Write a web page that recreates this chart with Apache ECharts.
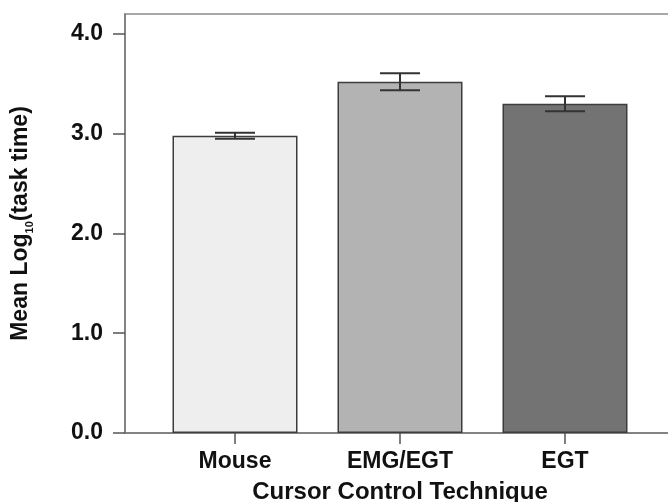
<!DOCTYPE html>
<html>
<head>
<meta charset="utf-8">
<script src="https://cdn.jsdelivr.net/npm/echarts@6/dist/echarts.min.js"></script>
<style>
html,body{margin:0;padding:0;background:#fff;}
#chart{width:668px;height:502px;}
</style>
</head>
<body>
<div id="chart"></div>
<script>
var categories = ['Mouse', 'EMG/EGT', 'EGT'];
var means = [2.98, 3.52, 3.30];
var errors = [0.03, 0.085, 0.075];
var barColors = ['#eeeeee', '#b3b3b3', '#737373'];
var yTickValues = [0, 1, 2, 3, 4];

var positions = categories.map(function (c, i) { return i; });
var barData = means.map(function (m, i) {
  return { value: [positions[i], m], itemStyle: { color: barColors[i] } };
});
var errData = means.map(function (m, i) { return [positions[i], m, errors[i]]; });

var chart = echarts.init(document.getElementById('chart'));
var font = 'Liberation Sans, Arial, sans-serif';
chart.setOption({
  animation: false,
  backgroundColor: '#ffffff',
  grid: {
    left: 125, right: -7, top: 14, bottom: 69,
    outerBoundsMode: 'none',
    containLabel: false,
    show: true, borderColor: '#8c8c8c', borderWidth: 1.5, backgroundColor: 'transparent'
  },
  xAxis: {
    type: 'value',
    min: -2 / 3,
    max: 8 / 3,
    name: 'Cursor Control Technique',
    nameLocation: 'middle',
    nameGap: 47,
    nameTextStyle: { fontFamily: font, fontWeight: 'bold', fontSize: 24, color: '#111' },
    axisLine: { show: true, onZero: false, lineStyle: { color: '#777', width: 1.5 } },
    axisTick: { show: true, length: 11, customValues: positions, lineStyle: { color: '#555', width: 1.5 } },
    axisLabel: {
      customValues: positions,
      margin: 17,
      fontFamily: font, fontWeight: 'bold', fontSize: 23, color: '#111',
      formatter: function (v) { return categories[Math.round(v)]; }
    },
    splitLine: { show: false }
  },
  yAxis: {
    type: 'value',
    min: 0,
    max: 4.2,
    interval: 1,
    name: 'Mean Log{sub|10}(task time)',
    nameLocation: 'middle',
    nameGap: 93,
    nameTextStyle: {
      fontFamily: font, fontWeight: 'bold', fontSize: 23, color: '#111',
      rich: { sub: { fontFamily: font, fontWeight: 'bold', fontSize: 11, color: '#111', verticalAlign: 'bottom', padding: [0, 0, -3, 0] } }
    },
    axisLine: { show: true, onZero: false, lineStyle: { color: '#777', width: 1.5 } },
    axisTick: { show: true, length: 12, customValues: yTickValues, lineStyle: { color: '#555', width: 1.5 } },
    axisLabel: {
      customValues: yTickValues,
      margin: 22,
      fontFamily: font, fontWeight: 'bold', fontSize: 23, color: '#111',
      formatter: function (v) { return v.toFixed(1); }
    },
    splitLine: { show: false }
  },
  series: [
    {
      type: 'bar',
      data: barData,
      barWidth: 125,
      itemStyle: { borderColor: '#3d3d3d', borderWidth: 1.5 }
    },
    {
      type: 'custom',
      data: errData,
      z: 5,
      renderItem: function (params, api) {
        var x = api.value(0), m = api.value(1), e = api.value(2);
        var hi = api.coord([x, m + e]);
        var lo = api.coord([x, m - e]);
        var hw = 20;
        var st = { stroke: '#333', lineWidth: 2 };
        return {
          type: 'group',
          children: [
            { type: 'line', shape: { x1: hi[0], y1: hi[1], x2: lo[0], y2: lo[1] }, style: st },
            { type: 'line', shape: { x1: hi[0] - hw, y1: hi[1], x2: hi[0] + hw, y2: hi[1] }, style: st },
            { type: 'line', shape: { x1: lo[0] - hw, y1: lo[1], x2: lo[0] + hw, y2: lo[1] }, style: st }
          ]
        };
      }
    }
  ]
});
</script>
</body>
</html>
